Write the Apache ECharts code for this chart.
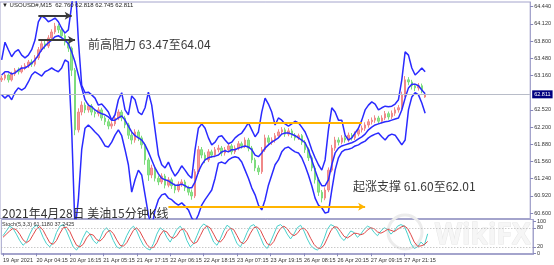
<!DOCTYPE html>
<html><head><meta charset="utf-8">
<script src="https://cdn.jsdelivr.net/npm/echarts@6/dist/echarts.min.js"></script>
<style>html,body{margin:0;padding:0;background:#fff}#c{width:554px;height:265px}</style>
</head><body><div id="c"></div>
<script>
const xLabels = ['19 Apr 2021','20 Apr 04:15','20 Apr 16:15','21 Apr 05:15','21 Apr 17:15','22 Apr 06:15','22 Apr 18:15','23 Apr 07:15','23 Apr 19:15','26 Apr 08:15','26 Apr 20:15','27 Apr 09:15','27 Apr 21:15'];
const priceTicks = [60.6,60.92,61.24,61.56,61.88,62.2,62.52,63.16,63.48,63.8,64.12,64.44];
const stochTicks = [0,20,80,100];
const lastPrice = 62.811;
// [open, close, low, high]
const candles = [
[63.08,63.11,63.04,63.16],[63.11,63.17,63.07,63.21],[63.17,63.08,63.03,63.20],[63.08,63.19,63.05,63.23],[63.19,63.26,63.15,63.30],
[63.26,63.23,63.18,63.31],[63.23,63.30,63.20,63.35],[63.30,63.34,63.26,63.39],[63.34,63.41,63.30,63.45],[63.41,63.37,63.32,63.46],
[63.37,63.49,63.33,63.54],[63.49,63.64,63.45,63.69],[63.64,63.75,63.60,63.80],[63.75,63.71,63.65,63.82],[63.71,63.86,63.67,63.91],
[63.86,63.97,63.82,64.02],[63.97,64.08,63.93,64.14],[64.08,64.01,63.95,64.12],[64.01,63.90,63.85,64.05],[63.90,63.78,63.72,63.95],
[63.78,63.67,63.60,63.82],[63.67,63.26,63.15,63.70],[63.26,62.15,62.05,63.30],[62.15,62.48,62.10,62.55],[62.48,62.61,62.42,62.68],
[62.61,62.52,62.46,62.66],[62.52,62.59,62.47,62.64],[62.59,62.48,62.42,62.63],[62.48,62.45,62.38,62.53],[62.45,62.52,62.40,62.57],
[62.52,62.37,62.32,62.56],[62.37,62.30,62.24,62.41],[62.30,62.22,62.16,62.35],[62.22,62.26,62.17,62.31],[62.26,62.37,62.22,62.42],
[62.37,62.48,62.33,62.53],[62.48,62.37,62.31,62.52],[62.37,62.24,62.18,62.41],[62.24,62.05,61.98,62.28],[62.05,61.96,61.88,62.10],
[61.96,62.11,61.91,62.16],[62.11,62.00,61.94,62.15],[62.00,61.87,61.80,62.04],[61.87,61.59,61.50,61.91],[61.59,61.31,61.20,61.63],
[61.31,61.44,61.25,61.50],[61.44,61.25,61.19,61.48],[61.25,61.18,61.12,61.30],[61.18,61.29,61.14,61.34],[61.29,61.12,61.06,61.33],
[61.12,61.22,61.08,61.27],[61.22,61.11,61.05,61.26],[61.11,61.03,60.97,61.15],[61.03,61.14,60.99,61.19],[61.14,61.18,61.09,61.23],
[61.18,61.07,61.01,61.22],[61.07,60.99,60.93,61.11],[60.99,60.92,60.85,61.04],[60.92,61.37,60.88,61.42],[61.37,61.78,61.33,61.85],
[61.78,61.68,61.62,61.83],[61.68,61.59,61.53,61.73],[61.59,61.74,61.55,61.79],[61.74,61.68,61.63,61.78],[61.68,61.78,61.64,61.83],
[61.78,61.81,61.73,61.87],[61.81,61.72,61.66,61.85],[61.72,61.78,61.67,61.83],[61.78,61.85,61.74,61.90],[61.85,61.74,61.69,61.89],
[61.74,61.81,61.70,61.86],[61.81,61.89,61.77,61.94],[61.89,61.85,61.80,61.93],[61.85,61.96,61.81,62.01],[61.96,61.81,61.75,62.00],
[61.81,61.59,61.53,61.85],[61.59,61.44,61.38,61.63],[61.44,61.37,61.31,61.49],[61.37,61.78,61.33,61.83],[61.78,62.00,61.74,62.06],
[62.00,61.92,61.86,62.05],[61.92,61.96,61.87,62.01],[61.96,62.04,61.91,62.09],[62.04,62.11,62.00,62.16],[62.11,62.15,62.06,62.20],
[62.15,62.07,62.02,62.19],[62.07,62.13,62.03,62.18],[62.13,62.05,62.00,62.17],[62.05,62.00,61.95,62.09],[62.00,62.04,61.96,62.08],
[62.04,61.92,61.87,62.07],[61.92,61.78,61.72,61.96],[61.78,61.63,61.57,61.82],[61.63,61.44,61.38,61.67],[61.44,61.22,61.15,61.48],
[61.22,60.99,60.92,61.26],[60.99,60.88,60.80,61.03],[60.88,61.03,60.84,61.08],[61.03,61.40,60.99,61.45],[61.40,61.81,61.36,61.87],
[61.81,61.96,61.76,62.02],[61.96,61.92,61.86,62.01],[61.92,62.00,61.88,62.05],[62.00,61.96,61.91,62.04],[61.96,62.05,61.92,62.10],
[62.05,62.00,61.95,62.09],[62.00,62.07,61.96,62.12],[62.07,62.15,62.03,62.20],[62.15,62.18,62.10,62.23],[62.18,62.24,62.13,62.29],
[62.24,62.30,62.19,62.35],[62.30,62.33,62.25,62.38],[62.33,62.37,62.28,62.42],[62.37,62.31,62.26,62.41],[62.31,62.37,62.27,62.42],
[62.37,62.45,62.33,62.50],[62.45,62.39,62.34,62.49],[62.39,62.46,62.35,62.51],[62.46,62.52,62.41,62.57],[62.52,62.56,62.47,62.61],
[62.56,62.80,62.52,62.86],[62.80,63.08,62.76,63.15],[63.08,63.04,62.98,63.13],[63.04,62.97,62.90,63.08],[62.97,62.93,62.87,63.01],
[62.93,62.97,62.88,63.02],[62.97,62.89,62.83,63.01],[62.760,62.811,62.745,62.818]
];
const bbUpper = [63.45,63.78,63.64,63.51,63.60,63.64,63.54,63.49,63.54,63.64,
63.82,64.16,64.27,64.23,64.16,64.19,64.23,64.16,64.04,63.95,
64.01,64.47,64.94,63.82,62.98,62.84,62.85,62.80,62.74,62.61,
62.63,62.56,62.48,62.33,62.43,62.71,62.84,62.52,62.43,62.78,
62.71,62.48,62.43,62.56,62.85,62.61,62.15,61.68,61.50,61.44,
61.55,61.40,61.29,61.37,61.48,61.40,61.31,61.25,61.78,62.18,
62.26,62.18,62.00,61.87,61.92,62.02,62.04,61.96,61.89,61.92,
62.00,62.05,62.09,62.18,62.28,62.15,62.02,62.11,62.48,62.74,
62.63,62.48,62.24,62.37,62.33,62.26,62.22,62.26,62.31,62.28,
62.20,62.11,61.96,61.78,61.63,61.50,61.40,61.59,62.15,62.56,
62.48,62.33,62.33,62.05,61.96,62.00,62.09,62.18,62.33,62.52,
62.61,62.67,62.63,62.52,62.56,62.59,62.58,62.59,62.63,62.71,
63.08,63.60,63.54,63.30,63.17,63.23,63.30,63.23];
const bbMiddle = [63.17,63.23,63.23,63.19,63.21,63.26,63.30,63.30,63.34,63.39,
63.45,63.54,63.64,63.71,63.77,63.82,63.88,63.90,63.86,63.82,
63.75,63.60,63.41,63.17,62.93,62.71,62.61,62.58,62.52,62.48,
62.45,62.43,62.39,62.33,62.33,62.37,62.41,62.33,62.22,62.11,
62.04,62.00,61.96,61.87,61.74,61.59,61.44,61.33,61.25,61.22,
61.20,61.16,61.12,61.12,61.14,61.11,61.07,61.07,61.18,61.37,
61.50,61.59,61.63,61.65,61.66,61.68,61.74,61.76,61.74,61.78,
61.78,61.81,61.83,61.85,61.83,61.78,61.68,61.65,61.72,61.81,
61.87,61.92,61.96,62.00,62.07,62.09,62.09,62.07,62.04,62.00,
61.96,61.91,61.78,61.59,61.40,61.22,61.11,61.11,61.22,61.50,
61.72,61.81,61.85,61.87,61.89,61.91,61.94,61.98,62.02,62.07,
62.15,62.20,62.24,62.26,62.28,62.30,62.31,62.33,62.35,62.37,
62.52,62.74,62.93,63.00,63.00,62.97,62.89,62.82];
const bbLower = [62.80,62.74,62.80,62.71,62.85,62.93,62.89,62.93,63.04,63.17,
63.23,63.19,63.15,63.23,63.26,63.30,63.26,63.23,63.30,63.45,
63.41,62.15,60.29,60.85,61.78,62.18,62.24,62.18,62.11,62.05,
61.96,61.85,61.83,61.92,62.05,62.15,62.04,61.78,61.50,60.99,
61.22,61.40,61.31,60.94,60.57,60.32,60.66,60.85,60.94,60.96,
60.88,60.85,60.79,60.75,60.79,60.73,60.66,60.51,60.44,60.57,
60.75,60.85,60.94,61.03,61.25,61.53,61.55,61.52,61.59,61.63,
61.65,61.63,61.55,61.40,61.25,61.07,60.94,60.75,60.66,60.85,
61.12,61.31,61.50,61.59,61.74,61.81,61.83,61.78,61.74,61.72,
61.63,61.48,61.31,61.11,60.88,60.75,60.70,60.60,60.62,61.03,
61.40,61.63,61.74,61.78,61.79,61.81,61.85,61.87,61.91,61.94,
62.00,62.04,62.07,62.09,62.02,61.96,62.04,62.07,62.05,61.96,
61.87,61.96,62.52,62.76,62.84,62.80,62.65,62.46];
const stochMain = [55,70,85,78,60,40,25,35,60,80,
88,75,50,30,20,35,65,85,90,70,
45,20,10,25,50,70,60,40,30,45,
70,80,65,40,20,15,30,55,75,85,
70,45,25,15,10,30,60,80,72,50,
35,55,75,85,70,40,20,30,55,80,
92,85,60,35,25,45,70,88,80,55,
30,20,40,65,85,90,75,50,25,15,
35,60,85,90,80,60,45,60,80,88,
70,45,25,15,10,20,45,75,90,85,
70,50,40,55,70,65,50,60,75,85,
80,65,55,70,80,75,60,70,85,90,
85,60,30,15,20,35,25,61];
const stochSignal = [50,60,70,78,74,60,42,33,40,58,
76,84,72,52,33,28,40,62,80,82,
68,45,25,20,28,48,60,57,43,38,
48,65,72,62,42,25,22,33,53,72,
80,67,47,28,17,18,33,57,71,67,
52,47,55,72,77,65,43,30,35,55,
76,86,79,60,40,35,47,68,79,74,
55,35,30,42,63,80,83,72,50,30,
25,37,60,78,85,77,62,55,62,76,
79,68,47,28,17,15,25,47,70,83,
82,68,53,48,55,63,62,58,62,73,
80,77,67,63,68,75,72,68,75,82,
86,78,58,35,22,23,27,37];
// annotation levels: price and bar-index span
const resistanceArrows = [{price:64.27, from:11, to:21},{price:63.82, from:11, to:22}];
const supportLines = [{price:62.29, from:47, to:108, arrow:false},{price:60.72, from:50, to:109, arrow:true}];

const NCAT = 159;
const cats = Array.from({length:NCAT},(_, i)=>String(i));
const lblFont = 'Liberation Sans';
const isLabelIdx = i => i % 10 === 0 && i / 10 < xLabels.length;

function segLine(lv, color, width, arrow){
  return [
    {coord:[lv.from, lv.price], symbol:'none', lineStyle:{color, width, type:'solid'}, label:{show:false}},
    {coord:[lv.to, lv.price], symbol: arrow ? 'arrow' : 'none', symbolSize: arrow ? [6,7] : 0, lineStyle:{color, width, type:'solid'}}
  ];
}

const chart = echarts.init(document.getElementById('c'), null, {renderer:'canvas'});
chart.setOption({
  animation:false,
  backgroundColor:'#fff',
  grid:[
    {left:0, top:2, width:533, height:216.5, show:true, borderColor:'#a4a4cc', borderWidth:1},
    {left:0, top:219.5, width:533, height:35, show:true, borderColor:'#a4a4cc', borderWidth:1}
  ],
  xAxis:[
    {type:'category', gridIndex:0, data:cats, boundaryGap:true, axisLine:{show:false}, axisTick:{show:false}, axisLabel:{show:false}, splitLine:{show:false}},
    {type:'category', gridIndex:1, data:cats, boundaryGap:true,
      axisLine:{show:true, lineStyle:{color:'#a4a4cc'}},
      axisTick:{show:true, alignWithLabel:true, length:3, interval:(i)=>isLabelIdx(i), lineStyle:{color:'#8888bb'}},
      axisLabel:{show:true, hideOverlap:false, interval:(i)=>isLabelIdx(i), formatter:(v,i)=> isLabelIdx(i) ? xLabels[i/10] : '', align:'left', margin:3, fontSize:5.5, fontFamily:lblFont, color:'#333'},
      splitLine:{show:false}}
  ],
  yAxis:[
    {type:'value', gridIndex:0, position:'right', min:60.5, max:64.528, scale:true,
      axisLine:{show:true, lineStyle:{color:'#a4a4cc'}},
      axisTick:{show:true, length:3, customValues:priceTicks, lineStyle:{color:'#8888bb'}},
      axisLabel:{show:true, customValues:priceTicks, formatter:v=>v.toFixed(3), margin:4, fontSize:5.5, fontFamily:lblFont, color:'#333'},
      splitLine:{show:false}},
    {type:'value', gridIndex:1, position:'right', min:-4, max:106,
      axisLine:{show:true, lineStyle:{color:'#a4a4cc'}},
      axisTick:{show:true, length:3, customValues:stochTicks, lineStyle:{color:'#8888bb'}},
      axisLabel:{show:true, customValues:stochTicks, margin:4, fontSize:5.5, fontFamily:lblFont, color:'#333'},
      splitLine:{show:false}}
  ],
  series:[
    {type:'candlestick', xAxisIndex:0, yAxisIndex:0, data:candles, barWidth:2,
      itemStyle:{color:'#f59a9a', color0:'#8ee88e', borderColor:'#f08888', borderColor0:'#7ddc7d', borderWidth:1},
      markLine:{silent:true, animation:false, symbol:'none',
        data:[
          {yAxis:lastPrice, lineStyle:{color:'#b8bcc8', width:1, type:'solid'},
            label:{show:true, position:'end', distance:2, formatter:lastPrice.toFixed(3), backgroundColor:'#000080', color:'#fff', fontSize:5.5, fontFamily:lblFont, padding:[1,2,1,2]}},
          ...supportLines.map(l=>segLine(l,'#ffb400',2,l.arrow)),
          ...resistanceArrows.map(l=>segLine(l,'#3a3a3a',2,true))
        ]}
    },
    {type:'line', xAxisIndex:0, yAxisIndex:0, data:bbUpper, symbol:'none', lineStyle:{color:'#2a2aff', width:1.5}, z:3},
    {type:'line', xAxisIndex:0, yAxisIndex:0, data:bbMiddle, symbol:'none', lineStyle:{color:'#2a2aff', width:1.5}, z:3},
    {type:'line', xAxisIndex:0, yAxisIndex:0, data:bbLower, symbol:'none', lineStyle:{color:'#2a2aff', width:1.5}, z:3},
    {type:'line', xAxisIndex:1, yAxisIndex:1, data:stochMain, symbol:'none', lineStyle:{color:'#48d1cc', width:1},
      markLine:{silent:true, animation:false, symbol:'none', label:{show:false},
        lineStyle:{color:'#b0b0b0', width:1, type:[1,2]}, data:[{yAxis:20},{yAxis:80}]}},
    {type:'line', xAxisIndex:1, yAxisIndex:1, data:stochSignal, symbol:'none', lineStyle:{color:'#e04848', width:1}}
  ],
  graphic:[
    {type:'group', z:0, silent:true, children:[
      {type:'circle', shape:{cx:405, cy:232, r:17}, style:{fill:'none', stroke:'#ececec', lineWidth:3}},
      {type:'text', x:435, y:222, style:{text:'WikiFX', font:'bold 28px "Open Sans"', fill:'#f6f6f6', stroke:'#e6e6e6', lineWidth:1}}
    ]},
    {type:'text', x:2, y:2, z:10, style:{text:'\u25BC USOUSD#,M15  62.760 62.818 62.745 62.811', font:'6px "Liberation Sans"', fill:'#222'}},
    {type:'text', x:88, y:38, z:10, style:{text:'前高阻力 63.47至64.04', font:'12px "Noto Sans CJK SC"', fill:'#3a3a3a'}},
    {type:'text', x:353, y:180, z:10, style:{text:'起涨支撑 61.60至62.01', font:'12px "Noto Sans CJK SC"', fill:'#3a3a3a'}},
    {type:'text', x:2, y:207, z:10, style:{text:'2021年4月28日 美油15分钟K线', font:'12px "Noto Sans CJK SC"', fill:'#333'}},
    {type:'text', x:2, y:221.5, z:10, style:{text:'Stoch(5,3,3) 61.1180 37.2425', font:'5.5px "Liberation Sans"', fill:'#333'}}
  ]
});
</script></body></html>
